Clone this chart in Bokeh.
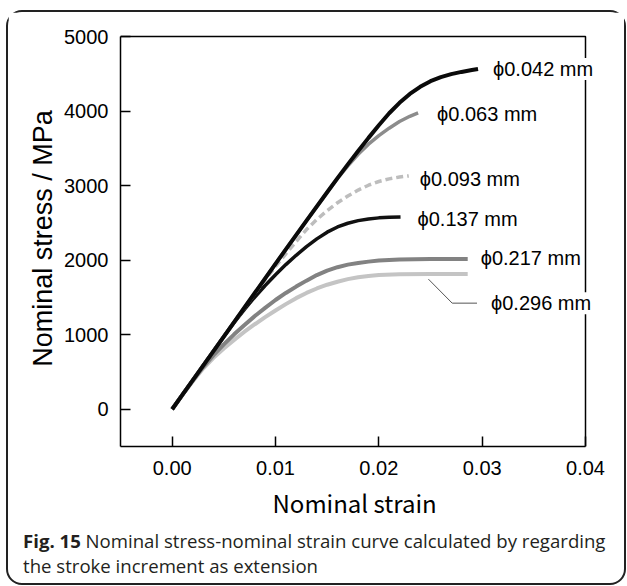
from bokeh.plotting import figure
from bokeh.models import Label, Range1d, FixedTicker, NumeralTickFormatter, Div, Title
from bokeh.layouts import column
from bokeh.embed import file_html
from bokeh.resources import INLINE

# ---- data ----
strain_042 = [0, 0.001, 0.003, 0.005, 0.007, 0.009, 0.011, 0.013, 0.015, 0.016, 0.017, 0.018, 0.019, 0.020, 0.021, 0.022, 0.023, 0.024, 0.025, 0.026, 0.027, 0.028, 0.029, 0.0296]
stress_042 = [0, 195, 585, 975, 1365, 1755, 2145, 2530, 2910, 3100, 3285, 3465, 3640, 3810, 3970, 4110, 4230, 4325, 4400, 4455, 4495, 4525, 4550, 4565]

strain_063 = [0, 0.003, 0.007, 0.011, 0.015, 0.016, 0.017, 0.018, 0.019, 0.020, 0.021, 0.022, 0.023, 0.0238]
stress_063 = [0, 585, 1365, 2145, 2910, 3095, 3265, 3420, 3555, 3670, 3770, 3860, 3930, 3975]

strain_093 = [0, 0.003, 0.006, 0.008, 0.009, 0.010, 0.011, 0.012, 0.013, 0.014, 0.015, 0.016, 0.017, 0.018, 0.019, 0.020, 0.021, 0.022, 0.0229]
stress_093 = [0, 585, 1170, 1555, 1740, 1915, 2085, 2250, 2410, 2545, 2665, 2770, 2860, 2940, 3005, 3055, 3090, 3115, 3130]

strain_137 = [0, 0.001, 0.003, 0.005, 0.006, 0.007, 0.008, 0.009, 0.010, 0.011, 0.012, 0.013, 0.014, 0.015, 0.016, 0.017, 0.018, 0.019, 0.020, 0.021, 0.0221]
stress_137 = [0, 195, 585, 975, 1165, 1340, 1505, 1660, 1805, 1940, 2065, 2180, 2285, 2375, 2445, 2495, 2530, 2553, 2567, 2576, 2580]

strain_217 = [0, 0.001, 0.002, 0.003, 0.004, 0.005, 0.006, 0.007, 0.008, 0.009, 0.010, 0.011, 0.012, 0.013, 0.014, 0.015, 0.016, 0.017, 0.018, 0.019, 0.020, 0.022, 0.025, 0.0286]
stress_217 = [0, 195, 385, 565, 725, 870, 1005, 1130, 1250, 1360, 1465, 1560, 1645, 1725, 1800, 1860, 1905, 1940, 1962, 1980, 1995, 2008, 2014, 2015]

strain_296 = [0, 0.001, 0.002, 0.003, 0.004, 0.005, 0.006, 0.007, 0.008, 0.009, 0.010, 0.011, 0.012, 0.013, 0.014, 0.015, 0.016, 0.017, 0.018, 0.019, 0.020, 0.022, 0.025, 0.0286]
stress_296 = [0, 192, 375, 545, 690, 815, 930, 1040, 1140, 1235, 1325, 1410, 1490, 1560, 1620, 1670, 1710, 1745, 1770, 1788, 1800, 1810, 1814, 1815]

series_labels = ["\u03d50.042 mm", "\u03d50.063 mm", "\u03d50.093 mm", "\u03d50.137 mm", "\u03d50.217 mm", "\u03d50.296 mm"]

x_ticks = [0, 0.01, 0.02, 0.03, 0.04]
y_ticks = [0, 1000, 2000, 3000, 4000, 5000]

x_title = "Nominal strain"
y_title = "Nominal stress / MPa"
caption_bold = "Fig. 15"
caption_line1 = "Nominal stress-nominal strain curve calculated by regarding"
caption_line2 = "the stroke increment as extension"

# axis extents
X_MIN, X_MAX = -0.005, 0.04
Y_MIN, Y_MAX = -500, 5000

# ---- layout geometry (pixels) ----
FIG_W, FIG_H = 616, 516
BORDER_L, BORDER_R, BORDER_T, BORDER_B = 112, 4, 18, 82
frame_w = FIG_W - BORDER_L - BORDER_R          # 500
frame_h = FIG_H - BORDER_T - BORDER_B          # 416
axis_px_x = 465                                 # pixels spanned by X_MIN..X_MAX
axis_px_y = 410                                 # pixels spanned by Y_MIN..Y_MAX
x_view_max = X_MIN + (X_MAX - X_MIN) * frame_w / axis_px_x
y_view_max = Y_MIN + (Y_MAX - Y_MIN) * frame_h / axis_px_y

p = figure(width=FIG_W, height=FIG_H, output_backend="svg", toolbar_location=None,
           x_range=Range1d(X_MIN, x_view_max), y_range=Range1d(Y_MIN, y_view_max),
           min_border_left=BORDER_L, min_border_right=BORDER_R,
           min_border_top=BORDER_T, min_border_bottom=BORDER_B,
           background_fill_color="white", border_fill_color="white", margin=0)
p.grid.visible = False
p.outline_line_color = None

for ax in (p.xaxis, p.yaxis):
    ax.major_tick_in = 10
    ax.major_tick_out = 0
    ax.minor_tick_in = 0
    ax.minor_tick_out = 0
    ax.axis_line_width = 1.5
    ax.axis_line_color = "black"
    ax.major_tick_line_width = 1.5
    ax.major_tick_line_color = "black"
    ax.major_label_text_font = "Liberation Sans"
    ax.major_label_text_font_size = "20px"
    ax.major_label_text_color = "black"
    ax.axis_label_text_font_style = "normal"
    ax.axis_label_text_color = "black"

p.xaxis.bounds = (X_MIN, X_MAX)
p.yaxis.bounds = (Y_MIN, Y_MAX)
p.xaxis.ticker = FixedTicker(ticks=x_ticks)
p.yaxis.ticker = FixedTicker(ticks=y_ticks)
p.xaxis.formatter = NumeralTickFormatter(format="0.00")
p.yaxis.formatter = NumeralTickFormatter(format="0")
p.xaxis.major_label_standoff = 14
p.yaxis.major_label_standoff = 12
p.yaxis.axis_label = y_title
p.yaxis.axis_label_text_font = "Liberation Sans"
p.yaxis.axis_label_text_font_size = "27px"
p.yaxis.axis_label_standoff = 3

# x-axis title, placed under the bounded axis (not the wider frame)
x_title_left = 152
p.add_layout(Title(text=x_title, align="left", offset=x_title_left, standoff=11,
                   text_font="Noto Sans CJK JP", text_font_size="24px",
                   text_font_style="normal", text_color="black"), "below")

# top and right edges of the plot box
p.line([X_MIN, X_MAX, X_MAX], [Y_MAX, Y_MAX, Y_MIN], line_color="black", line_width=1.5)

# curves (bottom to top)
p.line(strain_296, stress_296, line_color="#c4c4c4", line_width=4)
p.line(strain_217, stress_217, line_color="#828282", line_width=4)
p.line(strain_137, stress_137, line_color="#111111", line_width=3.5)
p.line(strain_093, stress_093, line_color="#bdbdbd", line_width=3.5, line_dash="7 4")
p.line(strain_063, stress_063, line_color="#8c8c8c", line_width=3.5)
p.line(strain_042, stress_042, line_color="#0a0a0a", line_width=4)

# labels at curve ends
ends = [(strain_042[-1], stress_042[-1], 15, 0),
        (strain_063[-1], stress_063[-1], 19, -1),
        (strain_093[-1], stress_093[-1], 11, -3),
        (strain_137[-1], stress_137[-1], 17, -2),
        (strain_217[-1], stress_217[-1], 13, 1)]
for (xe, ye, dx, dy), txt in zip(ends, series_labels[:5]):
    p.add_layout(Label(x=xe, y=ye, x_offset=dx, y_offset=dy, text=txt,
                       text_font="Liberation Sans", text_font_size="20px",
                       text_color="black", text_baseline="middle", text_align="left",
                       background_fill_color="white"))

# leader for the last label
xe, ye = strain_296[-1], stress_296[-1]
lead_x = [xe - 0.0038, xe - 0.0015, xe + 0.0009]
lead_y = [ye - 70, ye - 392, ye - 392]
p.line(lead_x, lead_y, line_color="#555555", line_width=1)
p.add_layout(Label(x=lead_x[-1], y=lead_y[-1], x_offset=14, text=series_labels[5],
                   text_font="Liberation Sans", text_font_size="20px",
                   text_color="black", text_baseline="middle", text_align="left",
                   background_fill_color="white"))

# caption
cap = Div(text=f"<b>{caption_bold}</b> {caption_line1}<br>{caption_line2}",
          width=600, height=55, margin=(0, 0, 0, 15),
          styles={"font-family": "'Open Sans', sans-serif", "font-size": "18.6px",
                  "line-height": "25px", "color": "#231f20", "white-space": "nowrap"})

root = column(p, cap, margin=(10, 0, 0, 6), spacing=0,
              styles={"border": "2px solid #222222", "border-radius": "16px",
                      "background-color": "white"})

open("out.html", "w").write(file_html(root, INLINE))
